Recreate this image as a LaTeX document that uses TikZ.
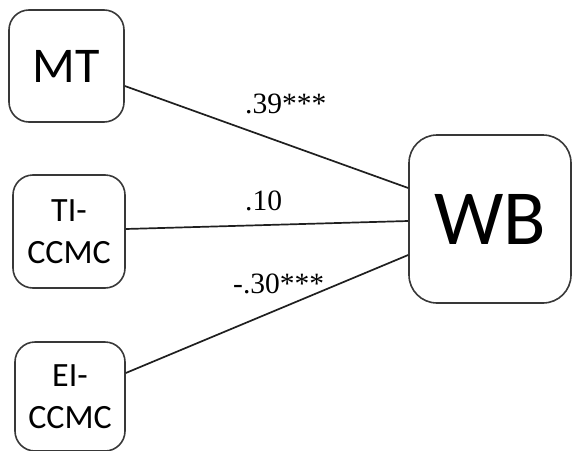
\documentclass[tikz,border=0pt]{standalone}
\usepackage{fontspec}
\setmainfont{Liberation Serif}
\newfontfamily\boxfont{Carlito}
\begin{document}
\begin{tikzpicture}[x=1pt,y=-1pt,
  varbox/.style={draw=black!78, line width=1.6pt, rounded corners=20pt,
    inner sep=0pt, align=center, font=\boxfont},
  path/.style={draw=black!88, line width=1.7pt},
  coef/.style={anchor=base west, inner sep=0pt, font=\fontsize{29.5}{34}\selectfont}]
  \useasboundingbox (0,0) rectangle (573,450);
  % predictors
  \node[varbox, minimum width=115pt, minimum height=112pt,
        font=\boxfont\fontsize{50}{60}\selectfont] (mt) at (66.5,66) {MT};
  \node[varbox, minimum width=112pt, minimum height=113pt,
        font=\boxfont\fontsize{34}{42}\selectfont] (ti) at (69,231.5) {TI-\\CCMC};
  \node[varbox, minimum width=110pt, minimum height=109pt,
        font=\boxfont\fontsize{34}{42}\selectfont] (ei) at (70,396.5) {EI-\\CCMC};
  % outcome
  \node[varbox, rounded corners=28pt, minimum width=162pt, minimum height=168pt,
        font=\boxfont\fontsize{78}{90}\selectfont] (wb) at (490,219) {WB};
  % paths
  \draw[path] ([yshift=-20pt]mt.east) -- ([yshift=31pt]wb.west);
  \draw[path] ([yshift=2.5pt]ti.east) -- ([yshift=-2pt]wb.west);
  \draw[path] ([yshift=23.5pt]ei.east) -- ([yshift=-36pt]wb.west);
  % coefficients
  \node[coef] (c1) at (245,113) {.39***};
  \node[coef] (c2) at (245,210) {.10};
  \node[coef] (c3) at (233,293) {-.30***};
\end{tikzpicture}
\end{document}
